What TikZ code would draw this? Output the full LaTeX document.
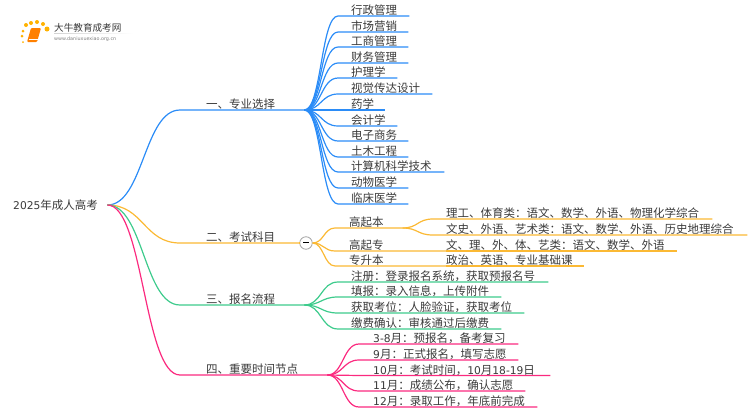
\documentclass[tikz,border=0pt]{standalone}
\usepackage{fontspec}
\setmainfont{Noto Sans CJK SC}
\newfontfamily\numfont[Scale=0.93]{DejaVu Sans}
\usetikzlibrary{positioning}
\definecolor{topicblue}{HTML}{2B8CF7}
\definecolor{topicorange}{HTML}{FBB934}
\definecolor{topicgreen}{HTML}{3DCB8C}
\definecolor{topicpink}{HTML}{FB2A7F}
\definecolor{inkgray}{HTML}{3A3A3A}
\tikzset{
    topic/.style={anchor=south west,inner xsep=0pt,inner ysep=0pt,text depth=1.3pt,text height=10pt,align=left,text=inkgray,font=\fontsize{11.5}{14}\selectfont},
    twig/.style 2 args={to path={.. controls +(#2,0) and +(-#2,0) .. ([xshift=-#1]\tikztotarget.south west) -- (\tikztotarget.south east)}},
    wire/.style={line width=1.2pt,#1},
    logodot/.style={circle,fill=orange!60!yellow,inner sep=0pt,minimum size=#1},
}
\begin{document}
\begin{tikzpicture}[x=1pt,y=-1pt]
        \useasboundingbox (0,0) rectangle (750,410);
        % logo
        \node[logodot=2pt] (dota) at (23,42) {};
        \node[logodot=3pt] (dotb) at (22,36) {};
        \node[logodot=3pt] (dotc) at (23,31) {};
        \node[logodot=4pt] (dotd) at (26,25) {};
        \node[logodot=4pt] (dote) at (31,23) {};
        \node[logodot=4pt] (dotf) at (37,22) {};
        \node[logodot=4pt] (dotg) at (43,24) {};
        \node[logodot=5pt] (doth) at (47,29) {};
        \fill[orange,rounded corners=1pt] (31,28) -- (41,28) -- (37,42) -- (27,42) -- cycle;
        \draw[white,line width=0.5pt] (29,39) -- (37.5,39);
        \node[anchor=west,inner sep=0pt,text=inkgray,font=\fontsize{9.6}{11}\selectfont] (logoname) at (54,27.5) {大牛教育成考网};
        \node[anchor=west,inner sep=0pt,text=gray,font=\numfont\fontsize{5.2}{6}\selectfont] (logoweb) at (54,39) {www.daniuxuexiao.org.cn};
        \shade[left color=gray!35,right color=white] (54,33) rectangle (133,33.6);
        % root
        \node[topic,anchor=west,text width=94pt] (root) at (13,205) {{\numfont 2025}年成人高考};
        % first level
        \node[topic,text width=98pt] (zhuanye) at (206,110) {一、专业选择};
        \node[topic,text width=94pt] (kemu) at (206,243) {二、考试科目};
        \node[topic,text width=98pt] (liucheng) at (206,305) {三、报名流程};
        \node[topic,text width=121pt] (shijian) at (206,375) {四、重要时间节点};
        \draw[wire=topicblue] (root.east) to[twig={26pt}{36pt}] (zhuanye);
        \draw[wire=topicorange] (root.east) to[twig={26pt}{36pt}] (kemu);
        \draw[wire=topicgreen] (root.east) to[twig={26pt}{36pt}] (liucheng);
        \draw[wire=topicpink] (root.east) to[twig={26pt}{36pt}] (shijian);
        % majors
        \node[topic,text width=58pt] (xingzheng) at (351,16) {行政管理};
        \node[topic,text width=57pt] (shichang) at (351,32) {市场营销};
        \node[topic,text width=57pt] (gongshang) at (351,47) {工商管理};
        \node[topic,text width=57pt] (caiwu) at (351,63) {财务管理};
        \node[topic,text width=46pt] (huli) at (351,78) {护理学};
        \node[topic,text width=81pt] (shijue) at (351,94) {视觉传达设计};
        \node[topic,text width=34pt] (yaoxue) at (351,110) {药学};
        \node[topic,text width=46pt] (kuaiji) at (351,126) {会计学};
        \node[topic,text width=57pt] (dianzi) at (351,141) {电子商务};
        \node[topic,text width=57pt] (tumu) at (351,157) {土木工程};
        \node[topic,text width=93pt] (jisuanji) at (351,172) {计算机科学技术};
        \node[topic,text width=57pt] (dongwu) at (351,188) {动物医学};
        \node[topic,text width=57pt] (linchuang) at (351,204) {临床医学};
        \draw[wire=topicblue] (zhuanye.south east) to[twig={13pt}{17pt}] (xingzheng);
        \draw[wire=topicblue] (zhuanye.south east) to[twig={13pt}{17pt}] (shichang);
        \draw[wire=topicblue] (zhuanye.south east) to[twig={13pt}{17pt}] (gongshang);
        \draw[wire=topicblue] (zhuanye.south east) to[twig={13pt}{17pt}] (caiwu);
        \draw[wire=topicblue] (zhuanye.south east) to[twig={13pt}{17pt}] (huli);
        \draw[wire=topicblue] (zhuanye.south east) to[twig={13pt}{17pt}] (shijue);
        \draw[wire=topicblue] (zhuanye.south east) to[twig={13pt}{17pt}] (yaoxue);
        \draw[wire=topicblue] (zhuanye.south east) to[twig={13pt}{17pt}] (kuaiji);
        \draw[wire=topicblue] (zhuanye.south east) to[twig={13pt}{17pt}] (dianzi);
        \draw[wire=topicblue] (zhuanye.south east) to[twig={13pt}{17pt}] (tumu);
        \draw[wire=topicblue] (zhuanye.south east) to[twig={13pt}{17pt}] (jisuanji);
        \draw[wire=topicblue] (zhuanye.south east) to[twig={13pt}{17pt}] (dongwu);
        \draw[wire=topicblue] (zhuanye.south east) to[twig={13pt}{17pt}] (linchuang);
        % exam subjects
        \node[draw=gray!70,fill=white,circle,inner sep=0pt,minimum size=12.5pt,line width=0.8pt] (fold) at (306,243) {\rule[2pt]{6pt}{0.7pt}};
        \node[topic,text width=53pt] (gaoben) at (349,228) {高起本};
        \node[topic,text width=97pt] (gaozhuan) at (349,251) {高起专};
        \node[topic,text width=97pt] (zhuansheng) at (349,266) {专升本};
        \node[topic,text width=266pt] (ligong) at (446,219) {理工、体育类：语文、数学、外语、物理化学综合};
        \node[topic,text width=301pt] (wenshi) at (446,235) {文史、外语、艺术类：语文、数学、外语、历史地理综合};
        \node[topic,text width=231pt] (wenli) at (446,251) {文、理、外、体、艺类：语文、数学、外语};
        \node[topic,text width=138pt] (zhengzhi) at (446,266) {政治、英语、专业基础课};
        \draw[wire=topicorange] (kemu.south east) -- (fold.west);
        \draw[wire=topicorange] (fold.east) to[twig={14pt}{11pt}] (gaoben);
        \draw[wire=topicorange] (fold.east) to[twig={14pt}{11pt}] (gaozhuan);
        \draw[wire=topicorange] (fold.east) to[twig={14pt}{11pt}] (zhuansheng);
        \draw[wire=topicorange] (gaoben.south east) to[twig={13pt}{16pt}] (ligong);
        \draw[wire=topicorange] (gaoben.south east) to[twig={13pt}{16pt}] (wenshi);
        \draw[wire=topicorange] (gaozhuan.south east) -- (wenli.south east);
        \draw[wire=topicorange] (zhuansheng.south east) -- (zhengzhi.south east);
        % sign up
        \node[topic,text width=197pt] (zhuce) at (351,282) {注册：登录报名系统，获取预报名号};
        \node[topic,text width=150pt] (tianbao) at (351,297) {填报：录入信息，上传附件};
        \node[topic,text width=173pt] (kaowei) at (351,313) {获取考位：人脸验证，获取考位};
        \node[topic,text width=150pt] (jiaofei) at (351,329) {缴费确认：审核通过后缴费};
        \draw[wire=topicgreen] (liucheng.south east) to[twig={13pt}{17pt}] (zhuce);
        \draw[wire=topicgreen] (liucheng.south east) to[twig={13pt}{17pt}] (tianbao);
        \draw[wire=topicgreen] (liucheng.south east) to[twig={13pt}{17pt}] (kaowei);
        \draw[wire=topicgreen] (liucheng.south east) to[twig={13pt}{17pt}] (jiaofei);
        % dates
        \node[topic,text width=145pt] (yuefena) at (373,344) {{\numfont 3-8}月：预报名，备考复习};
        \node[topic,text width=145pt] (yuefenb) at (373,360) {{\numfont 9}月：正式报名，填写志愿};
        \node[topic,text width=177pt] (yuefenc) at (373,375.5) {{\numfont 10}月：考试时间，{\numfont 10}月{\numfont 18-19}日};
        \node[topic,text width=152pt] (yuefend) at (373,391) {{\numfont 11}月：成绩公布，确认志愿};
        \node[topic,text width=164pt] (yuefene) at (373,407) {{\numfont 12}月：录取工作，年底前完成};
        \draw[wire=topicpink] (shijian.south east) to[twig={14pt}{16pt}] (yuefena);
        \draw[wire=topicpink] (shijian.south east) to[twig={14pt}{16pt}] (yuefenb);
        \draw[wire=topicpink] (shijian.south east) to[twig={14pt}{16pt}] (yuefenc);
        \draw[wire=topicpink] (shijian.south east) to[twig={14pt}{16pt}] (yuefend);
        \draw[wire=topicpink] (shijian.south east) to[twig={14pt}{16pt}] (yuefene);
    \end{tikzpicture}
\end{document}
